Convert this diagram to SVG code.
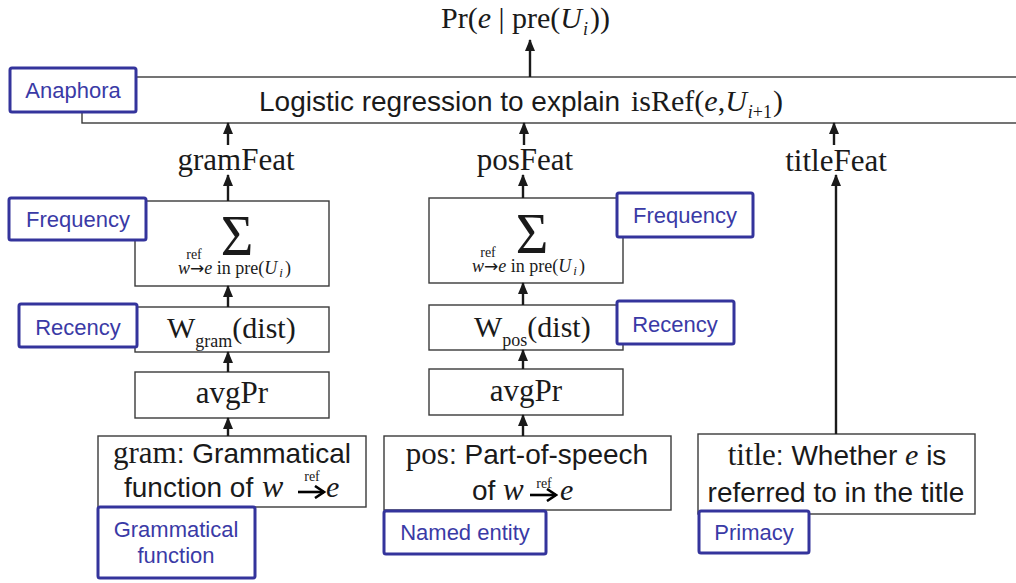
<svg xmlns="http://www.w3.org/2000/svg" width="1016" height="583" viewBox="0 0 1016 583">
  <style>
    .box { fill: #ffffff; stroke: #3a3a3a; stroke-width: 1.4; }
    .tag { fill: #ffffff; stroke: #34349c; stroke-width: 3; }
    .tagtxt { font-family: "Liberation Sans", Arial, sans-serif; font-size: 22px; fill: #3a3aa6; text-anchor: middle; }
    .sans { font-family: "Liberation Sans", Arial, sans-serif; font-size: 28px; fill: #1a1a1a; }
    .serif { font-family: "Liberation Serif", "Times New Roman", serif; fill: #1a1a1a; }
    .feat { font-family: "Liberation Serif", "Times New Roman", serif; font-size: 31px; fill: #1a1a1a; text-anchor: middle; }
    .it { font-style: italic; }
    .arr { font-family: "DejaVu Sans", sans-serif; }
    .conn { stroke: #1a1a1a; stroke-width: 2.4; fill: none; }
  </style>
  <defs>
    <marker id="head" markerUnits="userSpaceOnUse" markerWidth="12" markerHeight="12" viewBox="0 0 12 12" refX="11" refY="6" orient="auto">
      <path d="M0,1 L12,6 L0,11 Z" fill="#1a1a1a"/>
    </marker>
    <marker id="refhead" markerUnits="userSpaceOnUse" markerWidth="12" markerHeight="14" viewBox="0 0 12 14" refX="10" refY="7" orient="auto">
      <path d="M1,1 L10,7 L1,13" fill="none" stroke="#000" stroke-width="2.6"/>
    </marker>
  </defs>

  <!-- output probability -->
  <g id="output">
    <text class="serif" x="441" y="28" font-size="30">Pr(<tspan class="it">e</tspan> | pre(<tspan class="it">U</tspan><tspan class="it" font-size="18" dy="7" dx="1">i</tspan><tspan dy="-7" dx="2">))</tspan></text>
  </g>

  <!-- logistic regression band -->
  <g id="logistic">
    <rect class="box" x="82" y="77" width="1000" height="46"/>
    <text class="sans" x="259" y="111">Logistic regression to explain</text>
    <text class="serif" x="631" y="111" font-size="30">isRef(<tspan class="it">e</tspan>,<tspan class="it">U</tspan><tspan font-size="18" dy="7" dx="1"><tspan class="it">i</tspan>+1</tspan><tspan dy="-7" dx="1">)</tspan></text>
  </g>
  <g id="tag-anaphora">
    <rect class="tag" x="10" y="68" width="126" height="44" rx="2"/>
    <text class="tagtxt" x="73" y="98">Anaphora</text>
  </g>

  <!-- feature labels -->
  <g id="gramFeat"><text class="feat" x="236" y="170">gramFeat</text></g>
  <g id="posFeat"><text class="feat" x="525" y="170">posFeat</text></g>
  <g id="titleFeat"><text class="feat" x="836" y="171">titleFeat</text></g>

  <!-- grammatical-function column -->
  <g id="gram-sum">
    <rect class="box" x="135" y="201" width="194" height="85"/>
    <text class="serif" x="237" y="255" font-size="56" text-anchor="middle">Σ</text>
    <text class="serif" x="194" y="259" font-size="14" text-anchor="middle">ref</text>
    <text class="serif" x="178" y="274" font-size="18"><tspan class="it">w</tspan><tspan class="arr" font-size="17">→</tspan><tspan class="it">e</tspan> in pre(<tspan class="it">U</tspan><tspan class="it" font-size="13" dy="3" dx="2">i</tspan><tspan dy="-3" dx="2">)</tspan></text>
  </g>
  <g id="tag-frequency-gram">
    <rect class="tag" x="9" y="198" width="137" height="42" rx="2"/>
    <text class="tagtxt" x="78" y="227">Frequency</text>
  </g>
  <g id="gram-weight">
    <rect class="box" x="135" y="307" width="194" height="45"/>
    <text class="serif" x="167" y="338" font-size="30">W<tspan font-size="18" dy="9">gram</tspan><tspan dy="-9">(dist)</tspan></text>
  </g>
  <g id="tag-recency-gram">
    <rect class="tag" x="19" y="304" width="118" height="43" rx="2"/>
    <text class="tagtxt" x="78" y="335">Recency</text>
  </g>
  <g id="gram-avg">
    <rect class="box" x="135" y="372" width="194" height="46"/>
    <text class="feat" x="232" y="403">avgPr</text>
  </g>
  <g id="gram-source">
    <rect class="box" x="98" y="436" width="268" height="71"/>
    <text class="sans" x="232" y="463" text-anchor="middle"><tspan class="serif" font-size="31">gram</tspan>: Grammatical</text>
    <text class="sans" x="124" y="497">function of</text>
    <text class="serif it" x="262" y="497" font-size="32">w</text>
    <text class="serif" x="312" y="481" font-size="14" text-anchor="middle">ref</text>
    <path d="M298,492 H324" stroke="#000" stroke-width="2.6" marker-end="url(#refhead)"/>
    <text class="serif it" x="326" y="497" font-size="30">e</text>
  </g>
  <g id="tag-grammatical">
    <rect class="tag" x="98" y="507" width="157" height="71" rx="2"/>
    <text class="tagtxt" x="176" y="537">Grammatical</text>
    <text class="tagtxt" x="176" y="563">function</text>
  </g>

  <!-- part-of-speech column -->
  <g id="pos-sum">
    <rect class="box" x="429" y="198" width="194" height="85"/>
    <text class="serif" x="532" y="253" font-size="56" text-anchor="middle">Σ</text>
    <text class="serif" x="488" y="257" font-size="14" text-anchor="middle">ref</text>
    <text class="serif" x="472" y="272" font-size="18"><tspan class="it">w</tspan><tspan class="arr" font-size="17">→</tspan><tspan class="it">e</tspan> in pre(<tspan class="it">U</tspan><tspan class="it" font-size="13" dy="3" dx="2">i</tspan><tspan dy="-3" dx="2">)</tspan></text>
  </g>
  <g id="tag-frequency-pos">
    <rect class="tag" x="617" y="193" width="136" height="44" rx="2"/>
    <text class="tagtxt" x="685" y="223">Frequency</text>
  </g>
  <g id="pos-weight">
    <rect class="box" x="429" y="305" width="194" height="45"/>
    <text class="serif" x="474" y="337" font-size="30">W<tspan font-size="18" dy="9">pos</tspan><tspan dy="-9">(dist)</tspan></text>
  </g>
  <g id="tag-recency-pos">
    <rect class="tag" x="617" y="301" width="117" height="43" rx="2"/>
    <text class="tagtxt" x="675" y="332">Recency</text>
  </g>
  <g id="pos-avg">
    <rect class="box" x="429" y="369" width="194" height="46"/>
    <text class="feat" x="526" y="401">avgPr</text>
  </g>
  <g id="pos-source">
    <rect class="box" x="384" y="436" width="287" height="74"/>
    <text class="sans" x="527" y="464" text-anchor="middle"><tspan class="serif" font-size="31">pos</tspan>: Part-of-speech</text>
    <text class="sans" x="472" y="500">of</text>
    <text class="serif it" x="503" y="500" font-size="31">w</text>
    <text class="serif" x="544" y="488" font-size="14" text-anchor="middle">ref</text>
    <path d="M530,495 H556" stroke="#000" stroke-width="2.6" marker-end="url(#refhead)"/>
    <text class="serif it" x="560" y="500" font-size="30">e</text>
  </g>
  <g id="tag-named-entity">
    <rect class="tag" x="384" y="511" width="162" height="43" rx="2"/>
    <text class="tagtxt" x="465" y="540">Named entity</text>
  </g>

  <!-- title column -->
  <g id="title-source">
    <rect class="box" x="698" y="434" width="277" height="80"/>
    <text class="sans" x="837" y="465" text-anchor="middle"><tspan class="serif" font-size="31">title</tspan>: Whether <tspan class="serif it" font-size="30">e</tspan> is</text>
    <text class="sans" x="836" y="502" text-anchor="middle">referred to in the title</text>
  </g>
  <g id="tag-primacy">
    <rect class="tag" x="699" y="511" width="110" height="42" rx="2"/>
    <text class="tagtxt" x="754" y="540">Primacy</text>
  </g>

  <!-- connectors -->
  <g id="connectors" class="conn">
    <line class="conn" x1="530" y1="77" x2="530" y2="40" marker-end="url(#head)"/>
    <line class="conn" x1="228" y1="145" x2="228" y2="123" marker-end="url(#head)"/>
    <line class="conn" x1="524" y1="145" x2="524" y2="123" marker-end="url(#head)"/>
    <line class="conn" x1="834" y1="145" x2="834" y2="123" marker-end="url(#head)"/>
    <line class="conn" x1="228" y1="201" x2="228" y2="175" marker-end="url(#head)"/>
    <line class="conn" x1="523" y1="198" x2="523" y2="175" marker-end="url(#head)"/>
    <line class="conn" x1="228" y1="307" x2="228" y2="286" marker-end="url(#head)"/>
    <line class="conn" x1="523" y1="305" x2="523" y2="283" marker-end="url(#head)"/>
    <line class="conn" x1="228" y1="372" x2="228" y2="352" marker-end="url(#head)"/>
    <line class="conn" x1="523" y1="369" x2="523" y2="350" marker-end="url(#head)"/>
    <line class="conn" x1="228" y1="436" x2="228" y2="418" marker-end="url(#head)"/>
    <line class="conn" x1="523" y1="436" x2="523" y2="415" marker-end="url(#head)"/>
    <line class="conn" x1="836" y1="434" x2="836" y2="175" marker-end="url(#head)"/>
  </g>
</svg>
